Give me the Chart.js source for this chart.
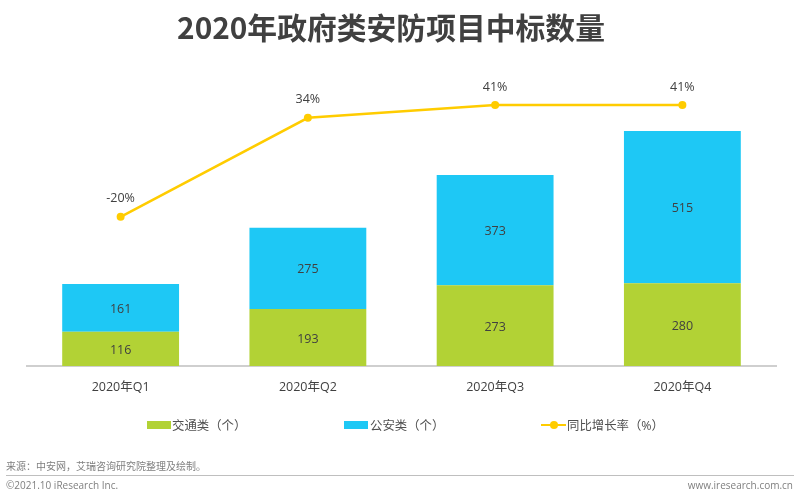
<!DOCTYPE html>
<html lang="zh"><head><meta charset="utf-8">
<script src="https://cdn.jsdelivr.net/npm/chart.js@4/dist/chart.umd.min.js"></script>
<style>
html,body{margin:0;padding:0;background:#fff;width:800px;height:501px;overflow:hidden;font-family:"Open Sans","Noto Sans CJK SC",sans-serif}
#wrap{position:absolute;left:0;top:0;width:800px;height:501px}
canvas{position:absolute;left:0;top:0}
.t{position:absolute;white-space:nowrap;color:#7f7f7f;font-size:10px;line-height:14px}
#title{left:0;width:782px;text-align:center;top:5px;font-size:29.8px;line-height:42px;font-weight:700;color:#404040;font-family:"Noto Sans CJK SC",sans-serif}
#rule{position:absolute;left:6px;width:788px;top:475px;height:1px;background:#bfbfbf}
.sw{position:absolute}
.lg{position:absolute;white-space:nowrap;color:#505050;font-size:12.4px;line-height:16px;top:418px}
</style></head><body>
<div id="wrap"><canvas id="c" width="800" height="501"></canvas>
<div class="t" id="title">2020年政府类安防项目中标数量</div>
<div id="legend"></div>
<div class="t" style="left:6px;top:459px">来源：中安网，艾瑞咨询研究院整理及绘制。</div>
<div id="rule"></div>
<div class="t" style="left:6px;top:478px">©2021.10 iResearch Inc.</div>
<div class="t" style="right:7px;top:478px">www.iresearch.com.cn</div>
</div>
<script>
const categories=["2020年Q1","2020年Q2","2020年Q3","2020年Q4"];
const traffic=[116,193,273,280];
const police=[161,275,373,515];
const growth=[-20,34,41,41];
const growthLabels=["-20%","34%","41%","41%"];
const seriesNames=["交通类（个）","公安类（个）","同比增长率（%）"];
const GREEN="#B2D235",BLUE="#1EC8F5",YELLOW="#FFCC00",TXT="#404040";
const FONT='"Open Sans","Noto Sans CJK SC",sans-serif';

const valueLabels={id:"valueLabels",afterDatasetsDraw(chart){
  const c=chart.ctx;c.save();c.font='12.5px '+FONT;c.fillStyle=TXT;c.textAlign="center";c.textBaseline="middle";
  chart.data.datasets.forEach((d,i)=>{
    const m=chart.getDatasetMeta(i);
    m.data.forEach((el,j)=>{
      if(d.type==="line") c.fillText(growthLabels[j],el.x,el.y-18);
      else c.fillText(String(d.data[j]),el.x,(el.y+el.base)/2+1.5);
    });
  });
  c.restore();
}};
const chart=new Chart(document.getElementById("c"),{
  data:{labels:categories,datasets:[
    {type:"line",label:seriesNames[2],data:growth,yAxisID:"y2",borderColor:YELLOW,backgroundColor:YELLOW,borderWidth:2.5,pointRadius:4,pointBackgroundColor:YELLOW,pointBorderWidth:0,tension:0,order:0},
    {type:"bar",label:seriesNames[0],data:traffic,backgroundColor:GREEN,stack:"s",yAxisID:"y",categoryPercentage:0.624,barPercentage:1,order:1},
    {type:"bar",label:seriesNames[1],data:police,backgroundColor:BLUE,stack:"s",yAxisID:"y",categoryPercentage:0.624,barPercentage:1,order:2}
  ]},
  options:{responsive:false,animation:false,devicePixelRatio:1,
    layout:{padding:{left:27,right:24,top:60,bottom:0}},
    plugins:{title:{display:false},tooltip:{enabled:false},legend:{display:false}},
    scales:{
      x:{stacked:true,grid:{display:false,drawTicks:false},border:{display:true,color:"#cfcfcf",width:2},ticks:{color:TXT,font:{size:12.5,family:FONT},padding:14,maxRotation:0},afterFit(s){s.height=135;}},
      y:{stacked:true,display:false,min:0,max:1035},
      y2:{display:false,min:-101.3,max:65.5}
    }},
  plugins:[valueLabels]
});
// legend built from the chart's own dataset names and colours
const lg=document.getElementById("legend");
[[1,147,172],[2,344,370],[0,541,567]].forEach(([idx,sx,tx])=>{
  const d=chart.data.datasets[idx];
  if(d.type==="line"){
    const l=document.createElement("div");l.className="sw";l.style.cssText=`left:${sx}px;top:424px;width:25px;height:2px;background:${d.borderColor}`;lg.appendChild(l);
    const p=document.createElement("div");p.className="sw";p.style.cssText=`left:${sx+8.5}px;top:421px;width:8px;height:8px;border-radius:50%;background:${d.borderColor}`;lg.appendChild(p);
  }else{
    const b=document.createElement("div");b.className="sw";b.style.cssText=`left:${sx}px;top:421px;width:24px;height:8px;background:${d.backgroundColor}`;lg.appendChild(b);
  }
  const t=document.createElement("div");t.className="lg";t.style.left=tx+"px";t.textContent=d.label;lg.appendChild(t);
});
</script></body></html>
